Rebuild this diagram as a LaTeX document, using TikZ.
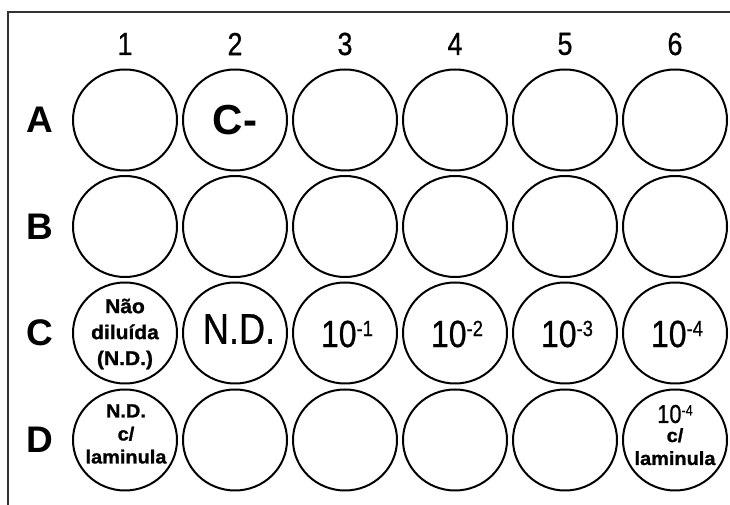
\documentclass[tikz,border=0pt]{standalone}
\usepackage{fontspec}
\setmainfont{Liberation Sans}
\newfontfamily\narrowf[FakeStretch=0.84,FakeBold=0.6]{Liberation Sans}
\newfontfamily\heavyf[FakeStretch=1.05,FakeBold=1.2]{Liberation Sans Bold}
\usetikzlibrary{shapes.geometric}
\newcommand\pwr[1]{10\raisebox{11pt}{\fontsize{22}{22}\selectfont -#1}}
\newcommand\spw[1]{10\raisebox{7.5pt}{\fontsize{15}{15}\selectfont -#1}}
\tikzset{
  well/.style={draw, line width=2pt, ellipse, minimum width=104pt, minimum height=101pt, inner sep=0pt},
  collab/.style={font=\narrowf\fontsize{32}{32}\selectfont, inner sep=0pt},
  rowlab/.style={font=\bfseries\fontsize{37}{37}\selectfont, inner sep=0pt},
  bigtxt/.style={font=\narrowf\fontsize{38}{38}\selectfont, inner sep=0pt},
  smallbold/.style={font=\heavyf\fontsize{19}{23}\selectfont, align=center, inner sep=0pt},
  frame/.style={line width=2.5pt, draw=black!80}
}
\begin{document}
\begin{tikzpicture}[x=1pt,y=1pt]
\useasboundingbox (0,0) rectangle (730,505);
\fill[white] (0,0) rectangle (730,505);
\coordinate (ftr) at (731,493);
\coordinate (fc) at (8,493);
\coordinate (fbl) at (8,-1);
\draw[frame] (ftr) -- (fc) -- (fbl);
% column labels
\foreach \i in {1,...,6} {
  \node[collab] (col\i) at ({125+110*(\i-1)}, 461) {\i};
}
% rows
\foreach \r/\y in {A/385, B/278.5, C/172, D/65} {
  \node[rowlab] (row\r) at (40,\y) {\r};
  \foreach \i in {1,...,6} {
    \node[well] (\r\i) at ({125+110*(\i-1)}, \y) {};
  }
}
% well contents
\node[font=\bfseries\fontsize{42}{42}\selectfont, inner sep=0pt] (tA2) at (A2.center) {C-};
\node[smallbold, font=\heavyf\fontsize{20}{26}\selectfont] (tC1) at ([yshift=-1pt]C1.center) {Não\\diluída\\(N.D.)};
\node[font=\narrowf\fontsize{43}{43}\selectfont, inner sep=0pt] (tC2) at ([xshift=4pt,yshift=4pt]C2.center) {N.D.};
\node[bigtxt] (tC3) at ([xshift=2pt,yshift=-1pt]C3.center) {\pwr{1}};
\node[bigtxt] (tC4) at ([xshift=2pt,yshift=-1pt]C4.center) {\pwr{2}};
\node[bigtxt] (tC5) at ([xshift=2pt,yshift=-1pt]C5.center) {\pwr{3}};
\node[bigtxt] (tC6) at ([xshift=2pt,yshift=-1pt]C6.center) {\pwr{4}};
\node[smallbold] (tD1) at ([xshift=1pt,yshift=6pt]D1.center) {N.D.\\c/\\laminula};
\node[smallbold] (tD6) at ([yshift=5pt]D6.center) {{\narrowf\fontsize{26}{26}\selectfont\spw{4}}\\[-4pt]c/\\laminula};
\end{tikzpicture}
\end{document}
